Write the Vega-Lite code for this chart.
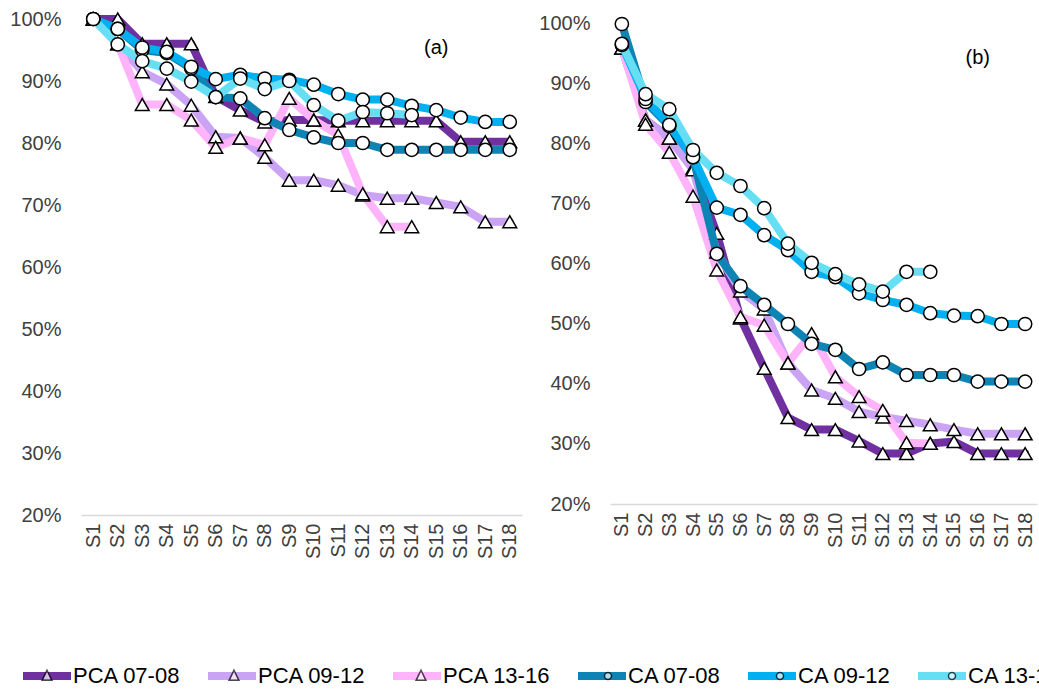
{
  "$schema": "https://vega.github.io/schema/vega-lite/v6.json",
  "background": "white",
  "padding": {"left": 9, "top": 9, "right": 0, "bottom": 0},
  "spacing": 16,
  "config": {
    "view": {"stroke": null},
    "font": "Liberation Sans",
    "axis": {"labelFont": "Liberation Sans", "labelFontSize": 20, "labelColor": "#404040", "grid": false, "ticks": false, "title": null}
  },
  "datasets": {
    "a": [
      {"series":"PCA 07-08","stage":"S1","value":100},{"series":"PCA 07-08","stage":"S2","value":100},{"series":"PCA 07-08","stage":"S3","value":96},{"series":"PCA 07-08","stage":"S4","value":96},{"series":"PCA 07-08","stage":"S5","value":96},{"series":"PCA 07-08","stage":"S6","value":87.5},{"series":"PCA 07-08","stage":"S7","value":85.3},{"series":"PCA 07-08","stage":"S8","value":83.4},{"series":"PCA 07-08","stage":"S9","value":83.7},{"series":"PCA 07-08","stage":"S10","value":83.7},{"series":"PCA 07-08","stage":"S11","value":83.6},{"series":"PCA 07-08","stage":"S12","value":83.6},{"series":"PCA 07-08","stage":"S13","value":83.6},{"series":"PCA 07-08","stage":"S14","value":83.6},{"series":"PCA 07-08","stage":"S15","value":83.6},{"series":"PCA 07-08","stage":"S16","value":80.2},{"series":"PCA 07-08","stage":"S17","value":80.2},{"series":"PCA 07-08","stage":"S18","value":80.2},
      {"series":"PCA 09-12","stage":"S1","value":100},{"series":"PCA 09-12","stage":"S2","value":96},{"series":"PCA 09-12","stage":"S3","value":91.5},{"series":"PCA 09-12","stage":"S4","value":89.5},{"series":"PCA 09-12","stage":"S5","value":86.1},{"series":"PCA 09-12","stage":"S6","value":81},{"series":"PCA 09-12","stage":"S7","value":80.8},{"series":"PCA 09-12","stage":"S8","value":77.7},{"series":"PCA 09-12","stage":"S9","value":74},{"series":"PCA 09-12","stage":"S10","value":74},{"series":"PCA 09-12","stage":"S11","value":73.2},{"series":"PCA 09-12","stage":"S12","value":71.6},{"series":"PCA 09-12","stage":"S13","value":71.1},{"series":"PCA 09-12","stage":"S14","value":71.1},{"series":"PCA 09-12","stage":"S15","value":70.4},{"series":"PCA 09-12","stage":"S16","value":69.7},{"series":"PCA 09-12","stage":"S17","value":67.3},{"series":"PCA 09-12","stage":"S18","value":67.3},
      {"series":"PCA 13-16","stage":"S1","value":100},{"series":"PCA 13-16","stage":"S2","value":96},{"series":"PCA 13-16","stage":"S3","value":86.2},{"series":"PCA 13-16","stage":"S4","value":86.2},{"series":"PCA 13-16","stage":"S5","value":83.7},{"series":"PCA 13-16","stage":"S6","value":79.3},{"series":"PCA 13-16","stage":"S7","value":80.8},{"series":"PCA 13-16","stage":"S8","value":79.7},{"series":"PCA 13-16","stage":"S9","value":87.2},{"series":"PCA 13-16","stage":"S10","value":83.7},{"series":"PCA 13-16","stage":"S11","value":81.3},{"series":"PCA 13-16","stage":"S12","value":71.8},{"series":"PCA 13-16","stage":"S13","value":66.5},{"series":"PCA 13-16","stage":"S14","value":66.5},
      {"series":"CA 07-08","stage":"S1","value":100},{"series":"CA 07-08","stage":"S2","value":98.4},{"series":"CA 07-08","stage":"S3","value":95},{"series":"CA 07-08","stage":"S4","value":94.5},{"series":"CA 07-08","stage":"S5","value":92},{"series":"CA 07-08","stage":"S6","value":87.4},{"series":"CA 07-08","stage":"S7","value":87.2},{"series":"CA 07-08","stage":"S8","value":84},{"series":"CA 07-08","stage":"S9","value":82.1},{"series":"CA 07-08","stage":"S10","value":80.9},{"series":"CA 07-08","stage":"S11","value":80},{"series":"CA 07-08","stage":"S12","value":80},{"series":"CA 07-08","stage":"S13","value":78.9},{"series":"CA 07-08","stage":"S14","value":78.9},{"series":"CA 07-08","stage":"S15","value":78.9},{"series":"CA 07-08","stage":"S16","value":78.9},{"series":"CA 07-08","stage":"S17","value":78.9},{"series":"CA 07-08","stage":"S18","value":78.9},
      {"series":"CA 09-12","stage":"S1","value":100},{"series":"CA 09-12","stage":"S2","value":98.4},{"series":"CA 09-12","stage":"S3","value":95.4},{"series":"CA 09-12","stage":"S4","value":94.7},{"series":"CA 09-12","stage":"S5","value":92.3},{"series":"CA 09-12","stage":"S6","value":90.3},{"series":"CA 09-12","stage":"S7","value":91},{"series":"CA 09-12","stage":"S8","value":90.4},{"series":"CA 09-12","stage":"S9","value":90.2},{"series":"CA 09-12","stage":"S10","value":89.4},{"series":"CA 09-12","stage":"S11","value":87.9},{"series":"CA 09-12","stage":"S12","value":87},{"series":"CA 09-12","stage":"S13","value":87},{"series":"CA 09-12","stage":"S14","value":86},{"series":"CA 09-12","stage":"S15","value":85.3},{"series":"CA 09-12","stage":"S16","value":84.1},{"series":"CA 09-12","stage":"S17","value":83.4},{"series":"CA 09-12","stage":"S18","value":83.4},
      {"series":"CA 13-16","stage":"S1","value":100},{"series":"CA 13-16","stage":"S2","value":95.9},{"series":"CA 13-16","stage":"S3","value":93.2},{"series":"CA 13-16","stage":"S4","value":92},{"series":"CA 13-16","stage":"S5","value":89.9},{"series":"CA 13-16","stage":"S6","value":87.4},{"series":"CA 13-16","stage":"S7","value":90.4},{"series":"CA 13-16","stage":"S8","value":88.7},{"series":"CA 13-16","stage":"S9","value":90},{"series":"CA 13-16","stage":"S10","value":86.1},{"series":"CA 13-16","stage":"S11","value":83.6},{"series":"CA 13-16","stage":"S12","value":85},{"series":"CA 13-16","stage":"S13","value":84.8},{"series":"CA 13-16","stage":"S14","value":84.5}
    ],
    "b": [
      {"series":"PCA 07-08","stage":"S1","value":96},{"series":"PCA 07-08","stage":"S2","value":84},{"series":"PCA 07-08","stage":"S3","value":81},{"series":"PCA 07-08","stage":"S4","value":76},{"series":"PCA 07-08","stage":"S5","value":65.1},{"series":"PCA 07-08","stage":"S6","value":51},{"series":"PCA 07-08","stage":"S7","value":42.6},{"series":"PCA 07-08","stage":"S8","value":34.4},{"series":"PCA 07-08","stage":"S9","value":32.4},{"series":"PCA 07-08","stage":"S10","value":32.4},{"series":"PCA 07-08","stage":"S11","value":30.5},{"series":"PCA 07-08","stage":"S12","value":28.4},{"series":"PCA 07-08","stage":"S13","value":28.4},{"series":"PCA 07-08","stage":"S14","value":30.1},{"series":"PCA 07-08","stage":"S15","value":30.4},{"series":"PCA 07-08","stage":"S16","value":28.4},{"series":"PCA 07-08","stage":"S17","value":28.4},{"series":"PCA 07-08","stage":"S18","value":28.4},
      {"series":"PCA 09-12","stage":"S1","value":96},{"series":"PCA 09-12","stage":"S2","value":84},{"series":"PCA 09-12","stage":"S3","value":81},{"series":"PCA 09-12","stage":"S4","value":75.7},{"series":"PCA 09-12","stage":"S5","value":62},{"series":"PCA 09-12","stage":"S6","value":55.5},{"series":"PCA 09-12","stage":"S7","value":52.5},{"series":"PCA 09-12","stage":"S8","value":43.5},{"series":"PCA 09-12","stage":"S9","value":39},{"series":"PCA 09-12","stage":"S10","value":37.6},{"series":"PCA 09-12","stage":"S11","value":35.4},{"series":"PCA 09-12","stage":"S12","value":34.5},{"series":"PCA 09-12","stage":"S13","value":33.9},{"series":"PCA 09-12","stage":"S14","value":33.2},{"series":"PCA 09-12","stage":"S15","value":32.4},{"series":"PCA 09-12","stage":"S16","value":31.7},{"series":"PCA 09-12","stage":"S17","value":31.7},{"series":"PCA 09-12","stage":"S18","value":31.7},
      {"series":"PCA 13-16","stage":"S1","value":96},{"series":"PCA 13-16","stage":"S2","value":83.3},{"series":"PCA 13-16","stage":"S3","value":78.6},{"series":"PCA 13-16","stage":"S4","value":71.3},{"series":"PCA 13-16","stage":"S5","value":59},{"series":"PCA 13-16","stage":"S6","value":51.2},{"series":"PCA 13-16","stage":"S7","value":49.8},{"series":"PCA 13-16","stage":"S8","value":43.5},{"series":"PCA 13-16","stage":"S9","value":48.4},{"series":"PCA 13-16","stage":"S10","value":41.2},{"series":"PCA 13-16","stage":"S11","value":37.9},{"series":"PCA 13-16","stage":"S12","value":35.6},{"series":"PCA 13-16","stage":"S13","value":30.2},{"series":"PCA 13-16","stage":"S14","value":30.1},
      {"series":"CA 07-08","stage":"S1","value":100},{"series":"CA 07-08","stage":"S2","value":87},{"series":"CA 07-08","stage":"S3","value":83},{"series":"CA 07-08","stage":"S4","value":77.8},{"series":"CA 07-08","stage":"S5","value":61.7},{"series":"CA 07-08","stage":"S6","value":56.3},{"series":"CA 07-08","stage":"S7","value":53.2},{"series":"CA 07-08","stage":"S8","value":50},{"series":"CA 07-08","stage":"S9","value":46.7},{"series":"CA 07-08","stage":"S10","value":45.7},{"series":"CA 07-08","stage":"S11","value":42.5},{"series":"CA 07-08","stage":"S12","value":43.6},{"series":"CA 07-08","stage":"S13","value":41.5},{"series":"CA 07-08","stage":"S14","value":41.5},{"series":"CA 07-08","stage":"S15","value":41.5},{"series":"CA 07-08","stage":"S16","value":40.4},{"series":"CA 07-08","stage":"S17","value":40.4},{"series":"CA 07-08","stage":"S18","value":40.4},
      {"series":"CA 09-12","stage":"S1","value":96.5},{"series":"CA 09-12","stage":"S2","value":87.5},{"series":"CA 09-12","stage":"S3","value":83.2},{"series":"CA 09-12","stage":"S4","value":77.8},{"series":"CA 09-12","stage":"S5","value":69.4},{"series":"CA 09-12","stage":"S6","value":68.2},{"series":"CA 09-12","stage":"S7","value":64.8},{"series":"CA 09-12","stage":"S8","value":62.3},{"series":"CA 09-12","stage":"S9","value":58.7},{"series":"CA 09-12","stage":"S10","value":57.8},{"series":"CA 09-12","stage":"S11","value":55.1},{"series":"CA 09-12","stage":"S12","value":54},{"series":"CA 09-12","stage":"S13","value":53.2},{"series":"CA 09-12","stage":"S14","value":51.8},{"series":"CA 09-12","stage":"S15","value":51.4},{"series":"CA 09-12","stage":"S16","value":51.3},{"series":"CA 09-12","stage":"S17","value":50},{"series":"CA 09-12","stage":"S18","value":50},
      {"series":"CA 13-16","stage":"S1","value":96.7},{"series":"CA 13-16","stage":"S2","value":88.3},{"series":"CA 13-16","stage":"S3","value":85.8},{"series":"CA 13-16","stage":"S4","value":79},{"series":"CA 13-16","stage":"S5","value":75.2},{"series":"CA 13-16","stage":"S6","value":73},{"series":"CA 13-16","stage":"S7","value":69.3},{"series":"CA 13-16","stage":"S8","value":63.4},{"series":"CA 13-16","stage":"S9","value":60.2},{"series":"CA 13-16","stage":"S10","value":58.3},{"series":"CA 13-16","stage":"S11","value":56.6},{"series":"CA 13-16","stage":"S12","value":55.4},{"series":"CA 13-16","stage":"S13","value":58.7},{"series":"CA 13-16","stage":"S14","value":58.7}
    ],
    "legendkeys": [
      {"series":"PCA 07-08","key":"k1"},{"series":"PCA 09-12","key":"k2"},{"series":"PCA 13-16","key":"k3"},{"series":"CA 07-08","key":"k4"},{"series":"CA 09-12","key":"k5"},{"series":"CA 13-16","key":"k6"}
    ]
  },
  "hconcat": [
    {
      "width": 441,
      "height": 496,
      "data": {"name": "a"},
      "encoding": {
        "x": {"field": "stage", "type": "ordinal", "scale": {"type": "point", "padding": 0.5, "domain": ["S1","S2","S3","S4","S5","S6","S7","S8","S9","S10","S11","S12","S13","S14","S15","S16","S17","S18"]}, "axis": {"labelAngle": 270, "labelPadding": 8, "domainColor": "#d9d9d9", "domainWidth": 1.5}},
        "y": {"field": "value", "type": "quantitative", "scale": {"domain": [20, 100], "nice": false, "zero": false}, "axis": {"values": [20,30,40,50,60,70,80,90,100], "labelExpr": "datum.value + '%'", "domain": false, "labelPadding": 20}}
      },
      "layer": [
        {"transform": [{"filter": "indexof(datum.series, 'PCA') === 0"}], "mark": {"type": "line", "strokeWidth": 8, "strokeJoin": "round", "strokeCap": "round"},
         "encoding": {"color": {"field": "series", "type": "nominal", "scale": {"domain": ["PCA 07-08","PCA 09-12","PCA 13-16","CA 07-08","CA 09-12","CA 13-16"], "range": ["#7030A0","#CBA3F5","#FFB3FA","#0E84B4","#00B0F0","#66DFF5"]},
           "legend": {"orient": "none", "legendX": -62, "legendY": 629, "direction": "horizontal", "title": null, "padding": 0, "labelFont": "Liberation Sans", "labelFontSize": 22, "labelColor": "#000000", "labelOffset": -2, "columnPadding": 11, "symbolSize": 2304, "symbolStrokeWidth": 8, "symbolType": "stroke"}}}},
        {"transform": [{"filter": "indexof(datum.series, 'PCA') === 0"}], "mark": {"type": "point", "shape": "triangle-up", "size": 190, "filled": true, "fill": "white", "stroke": "black", "strokeWidth": 1.5, "opacity": 1}},
        {"transform": [{"filter": "indexof(datum.series, 'CA') === 0"}], "mark": {"type": "line", "strokeWidth": 8, "strokeJoin": "round", "strokeCap": "round"},
         "encoding": {"color": {"field": "series", "type": "nominal"}}},
        {"transform": [{"filter": "indexof(datum.series, 'CA') === 0"}], "mark": {"type": "point", "shape": "circle", "size": 175, "filled": true, "fill": "white", "stroke": "black", "strokeWidth": 1.5, "opacity": 1}},
        {"data": {"values": [{"tag": "(a)", "stage": "S15", "value": 95.4}]}, "mark": {"type": "text", "font": "Liberation Sans", "fontSize": 20, "color": "#000000"}, "encoding": {"text": {"field": "tag"}}}
      ]
    },
    {
      "width": 427,
      "height": 485,
      "data": {"name": "b"},
      "encoding": {
        "x": {"field": "stage", "type": "ordinal", "scale": {"type": "point", "padding": 0.5, "domain": ["S1","S2","S3","S4","S5","S6","S7","S8","S9","S10","S11","S12","S13","S14","S15","S16","S17","S18"]}, "axis": {"labelAngle": 270, "labelPadding": 8, "domainColor": "#d9d9d9", "domainWidth": 1.5}},
        "y": {"field": "value", "type": "quantitative", "scale": {"domain": [20, 100.833], "nice": false, "zero": false}, "axis": {"values": [20,30,40,50,60,70,80,90,100], "labelExpr": "datum.value + '%'", "domain": false, "labelPadding": 20}}
      },
      "layer": [
        {"transform": [{"filter": "indexof(datum.series, 'PCA') === 0"}], "mark": {"type": "line", "strokeWidth": 8, "strokeJoin": "round", "strokeCap": "round"},
         "encoding": {"color": {"field": "series", "type": "nominal"}}},
        {"transform": [{"filter": "indexof(datum.series, 'PCA') === 0"}], "mark": {"type": "point", "shape": "triangle-up", "size": 190, "filled": true, "fill": "white", "stroke": "black", "strokeWidth": 1.5, "opacity": 1}},
        {"transform": [{"filter": "indexof(datum.series, 'CA') === 0"}], "mark": {"type": "line", "strokeWidth": 8, "strokeJoin": "round", "strokeCap": "round"},
         "encoding": {"color": {"field": "series", "type": "nominal"}}},
        {"transform": [{"filter": "indexof(datum.series, 'CA') === 0"}], "mark": {"type": "point", "shape": "circle", "size": 175, "filled": true, "fill": "white", "stroke": "black", "strokeWidth": 1.5, "opacity": 1}},
        {"data": {"values": [{"tag": "(b)", "stage": "S16", "value": 94.3}]}, "mark": {"type": "text", "font": "Liberation Sans", "fontSize": 20, "color": "#000000"}, "encoding": {"text": {"field": "tag"}}},
        {"data": {"name": "legendkeys"}, "mark": {"type": "point", "size": 0, "fill": "white", "stroke": "black", "strokeWidth": 1.5},
         "encoding": {"x": {"datum": "S9"}, "y": {"datum": 60},
           "shape": {"field": "key", "type": "nominal",
             "scale": {"domain": ["k1","k2","k3","k4","k5","k6"], "range": [
               "M-1.413,-0.239M1.119,0.239M0,-0.21L0.18,0.16L-0.18,0.16Z",
               "M-1.413,-0.239M1.119,0.239M0,-0.21L0.18,0.16L-0.18,0.16Z",
               "M-1.413,-0.239M1.119,0.239M0,-0.21L0.18,0.16L-0.18,0.16Z",
               "M-1.413,-0.239M1.119,0.239M-0.13,0A0.13,0.13,0,1,1,0.13,0A0.13,0.13,0,1,1,-0.13,0Z",
               "M-1.413,-0.239M1.119,0.239M-0.13,0A0.13,0.13,0,1,1,0.13,0A0.13,0.13,0,1,1,-0.13,0Z",
               "M-1.413,-0.239M1.119,0.239M-0.13,0A0.13,0.13,0,1,1,0.13,0A0.13,0.13,0,1,1,-0.13,0Z"]},
             "legend": {"orient": "none", "legendX": -62, "legendY": 629, "direction": "horizontal", "title": null, "padding": 0, "labelFont": "Liberation Sans", "labelFontSize": 22, "labelOpacity": 0, "labelOffset": -2, "columnPadding": 11, "symbolSize": 2970.25, "symbolStrokeWidth": 1.5,
               "labelExpr": "datum.label == 'k1' ? 'PCA 07-08' : datum.label == 'k2' ? 'PCA 09-12' : datum.label == 'k3' ? 'PCA 13-16' : datum.label == 'k4' ? 'CA 07-08' : datum.label == 'k5' ? 'CA 09-12' : 'CA 13-16'"}}}}
      ]
    }
  ]
}
